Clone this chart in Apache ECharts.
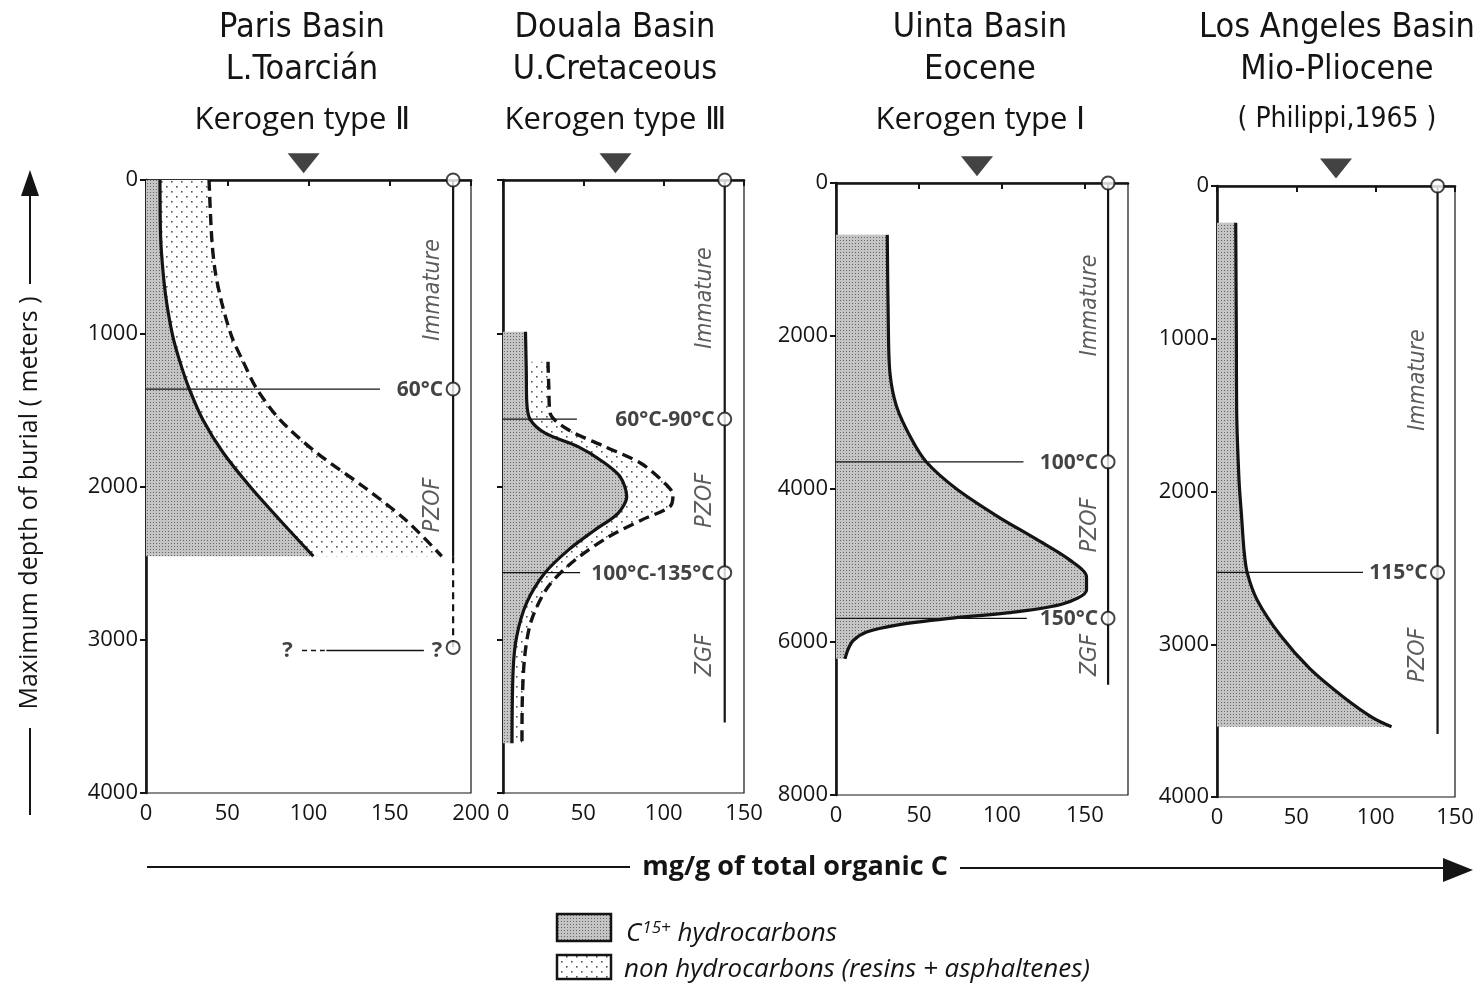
<!DOCTYPE html>
<html>
<head>
<meta charset="utf-8">
<script src="https://cdn.jsdelivr.net/npm/echarts@6/dist/echarts.min.js"></script>
<style>
html, body { margin: 0; background: #fff; }
#chart { width: 1477px; height: 984px; }
</style>
</head>
<body>
<div id="chart"></div>
<script>
// panel headings
var basins = ['Paris Basin', 'Douala Basin', 'Uinta Basin', 'Los Angeles Basin'];
var ages = ['L.Toarcián', 'U.Cretaceous', 'Eocene', 'Mio-Pliocene'];
var notes = ['Kerogen type Ⅱ', 'Kerogen type Ⅲ', 'Kerogen type Ⅰ', '( Philippi,1965 )'];

// axes
var xMax = [200, 150, 176, 150];
var depthMax = [4000, 4000, 8000, 4000];
var depthStep = [1000, 1000, 2000, 1000];

// [mg/g, depth m]  C15+ hydrocarbons (solid) and total extract (dashed)
var parisC15 = [[8.6,0],[9,370],[10.5,600],[12.7,800],[16.5,1020],[21,1190],[26.5,1360],[35,1565],[47.5,1780],[64,2000],[82.5,2220],[103,2455]];
var parisTotal = [[38.8,0],[40.4,370],[42.5,590],[46.6,800],[52.7,1020],[60,1190],[68,1360],[82.5,1565],[105,1780],[133.7,2000],[160,2220],[182,2455]];
var doualaC15 = [[14,990],[14.5,1250],[14.8,1450],[16.8,1560],[26,1650],[46.7,1740],[61,1830],[72.8,1935],[77,2065],[71.6,2175],[57,2285],[40.6,2415],[26,2565],[14.7,2760],[8.5,2980],[6.3,3200],[5.6,3675]];
var doualaTotal = [[28,1186],[28.5,1350],[29.3,1520],[40.6,1630],[63.5,1740],[86,1850],[100.8,1980],[105.8,2055],[104,2130],[86,2220],[65.5,2330],[44.8,2480],[28,2655],[17.8,2870],[13.7,3090],[12,3400],[11.8,3675]];
var uintaC15 = [[30.9,678],[31.5,1800],[32.5,2480],[36.5,2920],[45.6,3350],[54.6,3650],[72.7,4000],[96.8,4350],[121,4660],[141,4930],[151,5150],[151,5320],[137,5500],[107,5610],[67,5695],[36.5,5780],[18.5,5870],[10.4,5980],[7.4,6090],[5.4,6220]];
var laC15 = [[11.8,240],[12.2,1000],[12.4,1475],[13.9,1930],[15.4,2150],[17,2380],[19,2530],[25.3,2710],[39.8,2940],[58.5,3160],[79,3340],[98,3480],[110,3540]];

// temperature levels [depth, line end, label]
var temps = [
  [[1364, 144, '60°C']],
  [[1560, 46, '60°C-90°C'], [2562, 48, '100°C-135°C']],
  [[3645, 113, '100°C'], [5690, 115, '150°C']],
  [[2530, 92, '115°C']]
];
// maturity column
var columnX = [189, 138, 164, 139];
var columnEnd = [2455, 3540, 6560, 3588];
var parisDoubt = 3050;  // "? ---- ?" level
var zones = [
  [[176.6, 717, 'Immature'], [176.6, 2120, 'PZOF']],
  [[125.7, 770, 'Immature'], [125.7, 2090, 'PZOF'], [125.7, 3100, 'ZGF']],
  [[153, 1600, 'Immature'], [153, 4470, 'PZOF'], [153, 6170, 'ZGF']],
  [[126.7, 1270, 'Immature'], [126.7, 3070, 'PZOF']]
];
var markX = [97, 70, 85, 75];
var markDepth = [-110, -110, -220, -115];

var grids = [
  { left: 146, top: 180, width: 325, height: 613 },
  { left: 503, top: 180, width: 241, height: 613 },
  { left: 836, top: 183, width: 292, height: 612 },
  { left: 1217, top: 186, width: 238, height: 611 }
];
var centers = [302, 615, 980, 1337];

function pattern(size, bg, dots, dotColor, r) {
  var c = document.createElement('canvas');
  c.width = size; c.height = size;
  var ctx = c.getContext('2d');
  if (bg) { ctx.fillStyle = bg; ctx.fillRect(0, 0, size, size); }
  ctx.fillStyle = dotColor;
  dots.forEach(function (d) { ctx.fillRect(d[0], d[1], r, r); });
  return { image: c, repeat: 'repeat' };
}
var grayFill = pattern(3, '#c4c4c4', [[0, 0]], '#666', 1);
var dotFill = pattern(10, '#ffffff', [[1, 1], [6, 6]], '#555', 1.6);

var INK = '#141414';
var NUM = "'Open Sans', sans-serif";
var NARROW = "'Liberation Sans Narrow', 'DejaVu Sans Condensed', sans-serif";

function xAt(pts, depth) {
  for (var k = 1; k < pts.length; k++) {
    if (pts[k][1] >= depth) {
      var a = pts[k - 1], b = pts[k];
      return a[0] + (b[0] - a[0]) * (depth - a[1]) / (b[1] - a[1]);
    }
  }
  return pts[pts.length - 1][0];
}

function areaS(i, poly, fill) {
  return {
    type: 'custom', xAxisIndex: i, yAxisIndex: i, data: poly, silent: true, z: 1,
    renderItem: function (params, api) {
      if (params.dataIndex !== 0) return;
      return { type: 'polygon', shape: { points: poly.map(function (p) { return api.coord(p); }) },
        style: { fill: fill, stroke: null } };
    }
  };
}
function lineS(i, pts, style, extra) {
  return Object.assign({
    type: 'line', xAxisIndex: i, yAxisIndex: i, data: pts, symbol: 'none', silent: true,
    lineStyle: Object.assign({ color: INK, width: 3.2 }, style), z: 4
  }, extra || {});
}
function textS(i, items, label) {
  return {
    type: 'scatter', xAxisIndex: i, yAxisIndex: i, data: items, symbolSize: 1, clip: false, silent: true, z: 7,
    itemStyle: { color: 'transparent' },
    label: Object.assign({ show: true, position: 'inside', color: INK,
      formatter: function (p) { return p.value[2]; } }, label)
  };
}

var series = [];
var curves = [[parisC15, parisTotal], [doualaC15, doualaTotal], [uintaC15, null], [laC15, null]];
curves.forEach(function (cv, i) {
  var c15 = cv[0], tot = cv[1];
  var first = c15[0], last = c15[c15.length - 1];
  var grayPoly = [[0, first[1]]].concat(c15, [[0, last[1]]]);
  series.push(areaS(i, grayPoly, grayFill));
  if (tot) {
    var top = tot[0][1];
    var inner = [[xAt(c15, top), top]].concat(c15.filter(function (p) { return p[1] > top; }));
    series.push(areaS(i, inner.concat(tot.slice().reverse()), dotFill));
    series.push(lineS(i, tot, { type: [11, 6], width: 3.4 }, { smooth: 0.3 }));
  }
  series.push(lineS(i, c15, {}, { smooth: 0.3 }));
  temps[i].forEach(function (t) {
    series.push(lineS(i, [[0, t[0]], [t[1], t[0]]], { width: 1.3 }, { z: 3 }));
  });
  series.push(lineS(i, [[columnX[i], 0], [columnX[i], columnEnd[i]]], { width: 2.2 }, { z: 3 }));
  series.push(textS(i, temps[i].map(function (t) { return [columnX[i], t[0], t[2]]; }),
    { align: 'right', offset: [-10, 1], fontFamily: NUM, fontWeight: 'bold', fontSize: 21 }));
  series.push(textS(i, zones[i], { rotate: 90, align: 'center', fontFamily: NARROW, fontStyle: 'italic', fontSize: 23, color: '#333' }));
  var circles = [[columnX[i], 0]].concat(temps[i].map(function (t) { return [columnX[i], t[0]]; }));
  if (i === 0) circles.push([columnX[i], parisDoubt]);
  series.push({
    type: 'scatter', xAxisIndex: i, yAxisIndex: i, data: circles, symbol: 'circle', symbolSize: 13,
    clip: false, silent: true, z: 8, itemStyle: { color: '#fff', borderColor: INK, borderWidth: 2 }
  });
  series.push({
    type: 'scatter', xAxisIndex: i, yAxisIndex: i, data: [[markX[i], markDepth[i]]], symbol: 'triangle',
    symbolRotate: 180, symbolSize: [32, 20], clip: false, silent: true, z: 8, itemStyle: { color: INK }
  });
});
// Paris: uncertain lower limit
series.push(lineS(0, [[columnX[0], columnEnd[0]], [columnX[0], parisDoubt]], { width: 2.2, type: [7, 5] }, { z: 3 }));
series.push(lineS(0, [[96, parisDoubt + 20], [110, parisDoubt + 20]], { width: 1.5, type: [5, 4] }, { z: 3 }));
series.push(lineS(0, [[111, parisDoubt + 20], [171, parisDoubt + 20]], { width: 1.5 }, { z: 3 }));
series.push(textS(0, [[87, parisDoubt + 20, '?'], [179, parisDoubt + 20, '?']], { fontFamily: NUM, fontWeight: 'bold', fontSize: 22 }));

var graphic = [];
centers.forEach(function (cx, i) {
  graphic.push({ type: 'text', x: cx, y: 28, style: { text: basins[i], font: '34px ' + NARROW, fill: INK, align: 'center', verticalAlign: 'middle' } });
  graphic.push({ type: 'text', x: cx, y: 70, style: { text: ages[i], font: '34px ' + NARROW, fill: INK, align: 'center', verticalAlign: 'middle' } });
  graphic.push({ type: 'text', x: cx, y: 120, style: { text: notes[i], font: (i === 3 ? '28px ' + NARROW : '31px ' + NUM), fill: INK, align: 'center', verticalAlign: 'middle' } });
});
graphic.push(
  { type: 'text', x: 30, y: 503, rotation: Math.PI / 2, style: { text: 'Maximum depth of burial ( meters )', font: '25px ' + NUM, fill: INK, align: 'center', verticalAlign: 'middle' } },
  { type: 'line', shape: { x1: 30, y1: 815, x2: 30, y2: 728 }, style: { stroke: INK, lineWidth: 2 } },
  { type: 'line', shape: { x1: 30, y1: 284, x2: 30, y2: 190 }, style: { stroke: INK, lineWidth: 2 } },
  { type: 'polygon', shape: { points: [[30, 170], [21, 196], [39, 196]] }, style: { fill: INK } },
  { type: 'text', x: 795, y: 867, style: { text: 'mg/g of total organic C', font: 'bold 27px ' + NUM, fill: INK, align: 'center', verticalAlign: 'middle' } },
  { type: 'line', shape: { x1: 147, y1: 867, x2: 630, y2: 867 }, style: { stroke: INK, lineWidth: 2 } },
  { type: 'line', shape: { x1: 960, y1: 868, x2: 1448, y2: 868 }, style: { stroke: INK, lineWidth: 2 } },
  { type: 'polygon', shape: { points: [[1473, 870], [1443, 858], [1443, 882]] }, style: { fill: INK } },
  { type: 'rect', shape: { x: 557, y: 914, width: 54, height: 27 }, style: { fill: grayFill, stroke: INK, lineWidth: 2.5 } },
  { type: 'rect', shape: { x: 557, y: 955, width: 54, height: 24 }, style: { fill: dotFill, stroke: INK, lineWidth: 2.5 } },
  { type: 'text', x: 626, y: 934, style: { text: '{a|C}{s|15+}{a| hydrocarbons}', fill: INK, verticalAlign: 'middle',
      rich: { a: { font: 'italic 26px ' + NUM }, s: { font: 'italic 17px ' + NUM, verticalAlign: 'top', padding: [0, 0, 11, 1] } } } },
  { type: 'text', x: 624, y: 970, style: { text: 'non hydrocarbons (resins + asphaltenes)', font: 'italic 26px ' + NUM, fill: INK, verticalAlign: 'middle' } }
);

function plain(v) { return String(v); }

var chart = echarts.init(document.getElementById('chart'));
chart.setOption({
  animation: false,
  backgroundColor: '#fff',
  grid: grids.map(function (g) { return Object.assign({ show: true, borderColor: INK, borderWidth: 1.2, containLabel: false }, g); }),
  xAxis: grids.map(function (g, i) {
    return {
      type: 'value', gridIndex: i, min: 0, max: xMax[i], interval: 50,
      axisLine: { show: true, lineStyle: { color: INK, width: 2.6 } },
      axisTick: { show: true, length: 6, lineStyle: { color: INK, width: 2 } },
      axisLabel: { color: INK, fontFamily: NUM, fontSize: 22, margin: 10, showMaxLabel: i !== 2, formatter: plain },
      splitLine: { show: false }
    };
  }),
  yAxis: grids.map(function (g, i) {
    return {
      type: 'value', gridIndex: i, inverse: true, min: 0, max: depthMax[i], interval: depthStep[i],
      axisLine: { show: true, lineStyle: { color: INK, width: 2.6 } },
      axisTick: { show: true, length: 6, lineStyle: { color: INK, width: 2 } },
      axisLabel: { show: i !== 1, color: INK, fontFamily: NUM, fontSize: 22, margin: 8, formatter: plain },
      splitLine: { show: false }
    };
  }),
  series: series,
  graphic: graphic
});
</script>
</body>
</html>
